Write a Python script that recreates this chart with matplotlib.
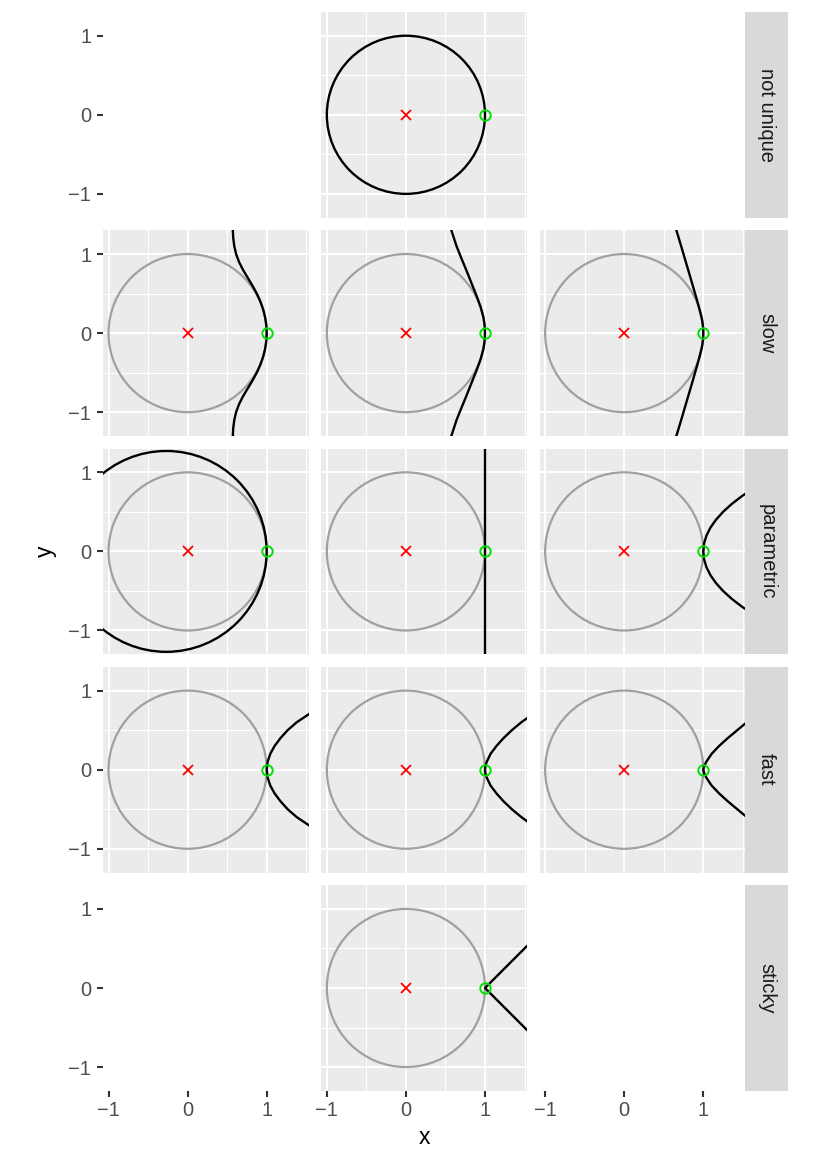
import matplotlib
matplotlib.use("Agg")
import matplotlib.pyplot as plt
from matplotlib.patches import Circle

# ---------------- data ----------------
row_labels = ["not unique", "slow", "parametric", "fast", "sticky"]
panel_present = [[0, 1, 0], [1, 1, 1], [1, 1, 1], [1, 1, 1], [0, 1, 0]]

tick_values = [-1, 0, 1]
tick_labels = ["\u22121", "0", "1"]
minor_x = [-0.5, 0.5, 1.5]
minor_y = [-0.5, 0.5]
xlim = (-1.07, 1.53)
ylim = (-1.30, 1.30)

center_pt = (0.0, 0.0)
contact_pt = (1.0, 0.0)
unit_radius = 1.0

# slow row
slow1_y = [-1.3, -1.2, -1.1, -1.0, -0.9, -0.8, -0.7, -0.6, -0.5, -0.4, -0.3, -0.2, -0.1, 0.0,
           0.1, 0.2, 0.3, 0.4, 0.5, 0.6, 0.7, 0.8, 0.9, 1.0, 1.1, 1.2, 1.3]
slow1_x = [0.572, 0.577, 0.59, 0.613, 0.65, 0.70, 0.76, 0.82, 0.875, 0.92, 0.955, 0.98, 0.995, 1.0,
           0.995, 0.98, 0.955, 0.92, 0.875, 0.82, 0.76, 0.70, 0.65, 0.613, 0.59, 0.577, 0.572]
slow2_y = [-1.3, -1.1, -0.95, -0.8, -0.63, -0.48, -0.33, -0.2, -0.1, 0.0, 0.1, 0.2, 0.33, 0.48, 0.63, 0.8, 0.95, 1.1, 1.3]
slow2_x = [0.575, 0.64, 0.70, 0.762, 0.83, 0.89, 0.945, 0.98, 0.995, 1.0, 0.995, 0.98, 0.945, 0.89, 0.83, 0.762, 0.70, 0.64, 0.575]
slow3_y = [-1.3, -1.1, -0.9, -0.7, -0.5, -0.4, -0.3, -0.2, -0.15, -0.1, -0.05, 0.0,
           0.05, 0.1, 0.15, 0.2, 0.3, 0.4, 0.5, 0.7, 0.9, 1.1, 1.3]
slow3_x = [0.66, 0.72, 0.779, 0.838, 0.896, 0.925, 0.952, 0.977, 0.987, 0.994, 0.9985, 1.0,
           0.9985, 0.994, 0.987, 0.977, 0.952, 0.925, 0.896, 0.838, 0.779, 0.72, 0.66]

# parametric row
param1_center = (-0.27, 0.0)
param1_radius = 1.27
param2_x = [1.0, 1.0]
param2_y = [-1.4, 1.4]
param3_y = [-0.8, -0.7, -0.6, -0.5, -0.4, -0.3, -0.2, -0.1, 0.0, 0.1, 0.2, 0.3, 0.4, 0.5, 0.6, 0.7, 0.8]
param3_x = [1.64, 1.49, 1.36, 1.25, 1.16, 1.09, 1.04, 1.01, 1.0, 1.01, 1.04, 1.09, 1.16, 1.25, 1.36, 1.49, 1.64]

# fast row
fast1_y = [-0.75, -0.7, -0.6, -0.5, -0.4, -0.3, -0.2, -0.1, 0.0, 0.1, 0.2, 0.3, 0.4, 0.5, 0.6, 0.7, 0.75]
fast1_x = [1.60, 1.53, 1.38, 1.265, 1.175, 1.10, 1.045, 1.012, 1.0, 1.012, 1.045, 1.10, 1.175, 1.265, 1.38, 1.53, 1.60]
fast2_y = [-0.7, -0.6, -0.5, -0.4, -0.3, -0.2, -0.1, -0.05, 0.0, 0.05, 0.1, 0.2, 0.3, 0.4, 0.5, 0.6, 0.7]
fast2_x = [1.60, 1.46, 1.34, 1.235, 1.145, 1.07, 1.022, 1.006, 1.0, 1.006, 1.022, 1.07, 1.145, 1.235, 1.34, 1.46, 1.60]
fast3_y = [-0.65, -0.6, -0.5, -0.4, -0.3, -0.2, -0.1, -0.05, 0.0, 0.05, 0.1, 0.2, 0.3, 0.4, 0.5, 0.6, 0.65]
fast3_x = [1.60, 1.55, 1.43, 1.31, 1.20, 1.105, 1.038, 1.013, 1.0, 1.013, 1.038, 1.105, 1.20, 1.31, 1.43, 1.55, 1.60]

# sticky row
sticky_x = [1.6, 1.0, 1.6]
sticky_y = [0.6, 0.0, -0.6]

curves = {
    (1, 0): (slow1_x, slow1_y), (1, 1): (slow2_x, slow2_y), (1, 2): (slow3_x, slow3_y),
    (2, 1): (param2_x, param2_y), (2, 2): (param3_x, param3_y),
    (3, 0): (fast1_x, fast1_y), (3, 1): (fast2_x, fast2_y), (3, 2): (fast3_x, fast3_y),
    (4, 1): (sticky_x, sticky_y),
}

# ---------------- style / layout ----------------
plt.rcParams['font.family'] = ['Liberation Sans', 'DejaVu Sans']
W, H = 830, 1163
fig = plt.figure(figsize=(W / 100, H / 100), dpi=100)

pw = 205.6
gap = 12.7
col_left = [103 + c * (pw + gap) for c in range(3)]
row_top = [12 + r * (pw + gap) for r in range(5)]
strip_w = 43

bg = "#EBEBEB"
grey_circle = "#A0A0A0"
tick_col = "#333333"
lab_col = "#4D4D4D"

def fig_rect(x0, y0, w, h):
    return [x0 / W, 1 - (y0 + h) / H, w / W, h / H]

for r in range(5):
    for c in range(3):
        ax = fig.add_axes(fig_rect(col_left[c], row_top[r], pw, pw))
        ax.set_xlim(*xlim)
        ax.set_ylim(*ylim)
        for s in ax.spines.values():
            s.set_visible(False)
        ax.set_xticks(tick_values)
        ax.set_yticks(tick_values)
        ax.set_xticks(minor_x, minor=True)
        ax.set_yticks(minor_y, minor=True)
        ax.tick_params(which='minor', length=0)
        ax.tick_params(which='major', length=4.5, width=1.5, color=tick_col,
                       labelcolor=lab_col, labelsize=14.5)
        ax.tick_params(axis='y', pad=4)
        ax.tick_params(axis='x', pad=3)
        ax.set_xticklabels(tick_labels)
        ax.set_yticklabels(tick_labels)
        show_left = (c == 0)
        show_bottom = (r == 4)
        ax.tick_params(axis='y', left=show_left, labelleft=show_left)
        ax.tick_params(axis='x', bottom=show_bottom, labelbottom=show_bottom)
        ax.set_axisbelow(True)

        if not panel_present[r][c]:
            ax.patch.set_visible(False)
            continue

        ax.set_facecolor(bg)
        ax.grid(which='major', color='white', lw=1.4)
        ax.grid(which='minor', color='white', lw=0.75)

        if r == 0:
            ax.add_patch(Circle(center_pt, unit_radius, fill=False, ec='black', lw=1.7, zorder=3))
        else:
            ax.add_patch(Circle(center_pt, unit_radius, fill=False, ec=grey_circle, lw=1.6, zorder=2))
            if (r, c) == (2, 0):
                ax.add_patch(Circle(param1_center, param1_radius, fill=False, ec='black', lw=1.7, zorder=3))
            else:
                cx, cy = curves[(r, c)]
                ax.plot(cx, cy, color='black', lw=1.7, zorder=3, solid_joinstyle='round')

        ax.plot([center_pt[0]], [center_pt[1]], marker='x', ls='none', color='red',
                ms=7.5, mew=1.3, zorder=5)
        ax.plot([contact_pt[0]], [contact_pt[1]], marker='o', ls='none', mfc='none',
                mec='#00E000', ms=7.5, mew=1.4, zorder=5)

    # strip
    sax = fig.add_axes(fig_rect(col_left[2] + pw, row_top[r], strip_w, pw))
    sax.set_facecolor("#D9D9D9")
    sax.set_xticks([])
    sax.set_yticks([])
    for s in sax.spines.values():
        s.set_visible(False)
    sax.text(0.5, 0.5, row_labels[r], rotation=270, ha='center', va='center',
             fontsize=14.5, color='#1A1A1A', transform=sax.transAxes)

fig.text(424 / W, 1 - 1137 / H, "x", ha='center', va='center', fontsize=16.5, color='black')
fig.text(45 / W, 1 - 551 / H, "y", ha='center', va='center', rotation=90, fontsize=16.5, color='black')

fig.savefig("out.png", dpi=100)
